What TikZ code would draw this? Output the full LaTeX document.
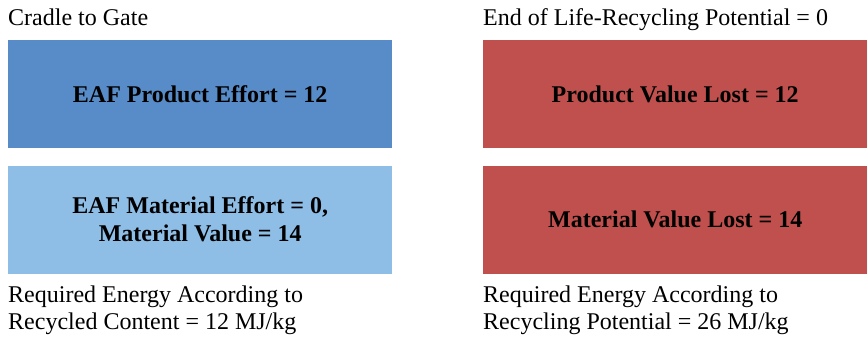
\documentclass[tikz,border=0pt]{standalone}
\usepackage{fontspec}
\setmainfont{Liberation Serif}
\definecolor{topblue}{HTML}{588CC8}
\definecolor{lightblue}{HTML}{8EBDE6}
\definecolor{lostred}{HTML}{C0504D}
\tikzset{
  box/.style={minimum width=384pt, minimum height=108pt, inner sep=0pt, align=center,
    font=\fontsize{24}{28}\selectfont\bfseries, text=black},
  caption/.style={anchor=base west, inner sep=0pt, align=left, font=\fontsize{24}{27}\selectfont}
}
\begin{document}
\begin{tikzpicture}[x=1pt,y=-1pt]
\useasboundingbox (0,0) rectangle (868,337);
\node[caption] (t1) at (8,25.5) {Cradle to Gate};
\node[caption] (t2) at (483,25.5) {End of Life-Recycling Potential = 0};
\node[box, fill=topblue, anchor=north west] (b1) at (8,40) {EAF Product Effort = 12};
\node[box, fill=lightblue, anchor=north west] (b2) at (8,165.5) {EAF Material Effort = 0,\\Material Value = 14};
\node[box, fill=lostred, anchor=north west] (b3) at (483,40) {Product Value Lost = 12};
\node[box, fill=lostred, anchor=north west] (b4) at (483,165.5) {Material Value Lost = 14};
\node[caption] (c1) at (8,302.5) {Required Energy According to};
\node[caption] (c2) at (8,329.5) {Recycled Content = 12 MJ/kg};
\node[caption] (c3) at (483,302.5) {Required Energy According to};
\node[caption] (c4) at (483,329.5) {Recycling Potential = 26 MJ/kg};
\end{tikzpicture}
\end{document}
